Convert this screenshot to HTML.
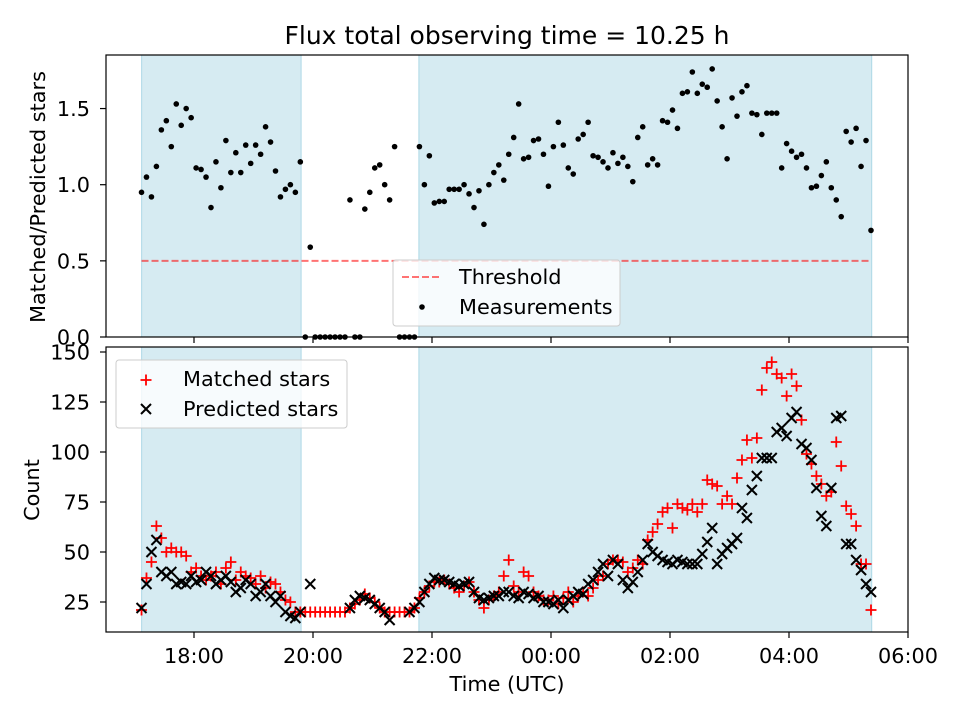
<!DOCTYPE html>
<html><head><meta charset="utf-8"><style>
body{margin:0;background:#fff;}
svg text{font-family:"DejaVu Sans","Liberation Sans",sans-serif;fill:#000;}
</style></head><body>
<svg id="chart" width="960" height="720" xmlns="http://www.w3.org/2000/svg"></svg>
<script>
// ---- data ----
const startHour = -0.882;   // hours relative to 18:00 (first sample)
const endHour = 11.378;     // last sample
const ratioValues = [0.95,1.05,0.92,1.12,1.36,1.42,1.25,1.53,1.39,1.50,1.44,1.11,1.10,1.05,0.85,1.15,0.98,1.29,1.08,1.21,1.08,1.26,1.14,1.26,1.20,1.38,1.28,1.09,0.92,0.97,1.00,0.95,1.15,
0,0.59,0,0,0,0,0,0,0,0.90,0,0,0.84,0.95,1.11,1.13,1.00,0.90,1.25,0,0,0,0,
1.25,1.00,1.19,0.88,0.89,0.89,0.97,0.97,0.97,1.00,0.94,0.85,0.96,0.74,1.00,1.08,
1.13,1.03,1.20,1.31,1.53,1.17,1.18,1.29,1.30,1.20,
0.99,1.25,1.41,1.26,1.11,1.07,1.30,1.33,1.41,1.19,1.18,1.15,1.11,1.21,1.14,1.18,1.12,1.02,1.31,1.38,1.13,1.17,1.13,1.42,1.41,1.49,1.37,1.60,1.61,
1.74,1.60,1.66,1.64,1.76,1.55,1.38,1.17,1.57,1.45,1.61,1.65,1.47,1.46,1.33,1.47,1.47,1.47,1.11,1.27,1.22,1.18,1.20,1.11,0.98,0.99,1.06,1.15,0.98,0.90,0.79,1.35,1.28,1.37,1.12,1.29,0.70];
const matchedValues = [21,37,45,63,57,50,52,50,50,48,40,42,38,36,38,40,34,42,45,36,40,38,37,34,38,32,35,34,30,26,25,20,20,
20,20,20,20,20,20,20,20,20,22,24,26,29,27,25,22,20,20,20,20,20,20,22,
27,30,33,35,35,36,34,32,30,33,35,30,26,22,26,28,
30,38,46,33,30,40,38,30,28,26,
26,28,24,27,30,25,28,30,28,32,36,38,44,46,46,45,40,42,46,44,56,60,64,70,72,62,74,72,71,
74,70,74,86,84,83,74,78,74,87,96,106,97,107,131,142,145,139,137,128,139,133,116,99,94,88,84,78,80,105,93,73,69,63,44,44,21];
const predictedValues = [22,34,50,56,40,38,40,34,35,34,38,35,36,40,38,34,36,38,35,30,32,36,34,28,30,34,28,25,28,20,18,17,20,
null,34,null,null,null,null,null,null,null,22,26,28,27,26,24,22,20,16,null,null,null,20,22,
25,30,34,37,36,36,35,34,33,34,35,30,27,26,27,28,
28,30,30,28,27,30,29,27,28,25,
25,24,26,22,26,28,30,29,34,36,40,44,38,46,44,36,32,35,40,46,54,50,48,46,45,44,46,45,44,
44,44,49,55,62,44,49,52,54,57,72,67,81,88,97,97,97,110,112,108,117,120,104,102,96,82,68,63,82,117,118,54,54,46,41,34,30];
const threshold = 0.5;
const observingSpans = [[-0.88,1.80],[3.78,11.39]];
const xTickHours = [0,2,4,6,8,10,12];
const xTickLabels = ["18:00","20:00","22:00","00:00","02:00","04:00","06:00"];
const topTicks = [0,0.5,1.0,1.5];
const topTickLabels = ["0.0","0.5","1.0","1.5"];
const botTicks = [25,50,75,100,125,150];

// ---- scales ----
const L=106,R=908,T1=55,B1=337,T2=347,B2=632;
const xS=h=>194+h*59.5;
const yTop=v=>337-v*152.3;
const yBot=c=>352-(c-150)*2;
const svg=document.getElementById('chart');
const NS='http://www.w3.org/2000/svg';
function mk(tag,attrs,parent){const e=document.createElementNS(NS,tag);for(const k in attrs)e.setAttribute(k,attrs[k]);(parent||svg).appendChild(e);return e;}
const n=ratioValues.length;
const timeAt=i=>startHour+i*(endHour-startHour)/(n-1);

function panel(T,B,name){
  const g=mk('g',{});
  
  
  observingSpans.forEach(s=>{
    const r=mk('rect',{x:xS(s[0]),y:T,width:xS(s[1])-xS(s[0]),height:B-T,fill:'#add8e6','fill-opacity':0.5,stroke:'#add8e6','stroke-width':1},g);
    
    
  });
  return g;
}
function frame(T,B){mk('rect',{x:L,y:T,width:R-L,height:B-T,fill:'none',stroke:'#000','stroke-width':1.2});}

// top panel
const gTop=panel(T1,B1,'ratio-panel');
const th=mk('line',{x1:xS(startHour),x2:xS(endHour),y1:yTop(threshold),y2:yTop(threshold),stroke:'#ff0000','stroke-opacity':0.55,'stroke-width':2,'stroke-dasharray':'7,3'},gTop);


ratioValues.forEach((v,i)=>{
  const c=mk('circle',{cx:xS(timeAt(i)),cy:yTop(v),r:2.8,fill:'#000'},gTop);
  
  
});
frame(T1,B1);
topTicks.forEach((v,k)=>{
  mk('line',{x1:L-6,x2:L,y1:yTop(v),y2:yTop(v),stroke:'#000','stroke-width':1.2});
  const t=mk('text',{x:L-16,y:yTop(v)+7.5,'text-anchor':'end','font-size':20.8});t.textContent=topTickLabels[k];
  
  
});
xTickHours.forEach(h=>mk('line',{x1:xS(h),x2:xS(h),y1:B1,y2:B1+6,stroke:'#000','stroke-width':1.2}));

// bottom panel
const gBot=panel(T2,B2,'count-panel');
function plus(x,y,p){mk('path',{d:`M${x-5.5} ${y}H${x+5.5}M${x} ${y-5.5}V${y+5.5}`,stroke:'#ff0000','stroke-width':1.8,fill:'none'},p);}
function cross(x,y,p){mk('path',{d:`M${x-5} ${y-5}L${x+5} ${y+5}M${x-5} ${y+5}L${x+5} ${y-5}`,stroke:'#000','stroke-width':2,fill:'none'},p);}
const clipB=v=>v!==null&&v>=10&&v<=152;
matchedValues.forEach((v,i)=>{ if(clipB(v)) plus(xS(timeAt(i)),yBot(v),gBot); });
predictedValues.forEach((v,i)=>{ if(clipB(v)) cross(xS(timeAt(i)),yBot(v),gBot); });
frame(T2,B2);
botTicks.forEach(v=>{
  mk('line',{x1:L-6,x2:L,y1:yBot(v),y2:yBot(v),stroke:'#000','stroke-width':1.2});
  const t=mk('text',{x:L-16,y:yBot(v)+7.5,'text-anchor':'end','font-size':20.8});t.textContent=v;
  
  
});
xTickHours.forEach((h,k)=>{
  mk('line',{x1:xS(h),x2:xS(h),y1:B2,y2:B2+6,stroke:'#000','stroke-width':1.2});
  const t=mk('text',{x:xS(h),y:663,'text-anchor':'middle','font-size':20.8});t.textContent=xTickLabels[k];
  
  
});
</script>
<svg width="960" height="720" style="position:absolute;left:0;top:0" xmlns="http://www.w3.org/2000/svg">
 <text x="507" y="44" text-anchor="middle" font-size="25">Flux total observing time = 10.25 h</text>
 <text transform="translate(45,197) rotate(-90)" text-anchor="middle" font-size="20.8">Matched/Predicted stars</text>
 <text transform="translate(39,490) rotate(-90)" text-anchor="middle" font-size="20.8">Count</text>
 <text x="507" y="691" text-anchor="middle" font-size="20.8">Time (UTC)</text>
 <g>
  <rect x="393" y="260" width="227" height="66" rx="3" fill="#ffffff" fill-opacity="0.8" stroke="#cccccc"/>
  <line x1="402" y1="277" x2="440" y2="277" stroke="#ff0000" stroke-opacity="0.55" stroke-width="2" stroke-dasharray="7,3"/>
  <text x="459" y="284" font-size="20.8">Threshold</text>
  <circle cx="422" cy="307" r="2.8" fill="#000"/>
  <text x="459" y="314" font-size="20.8">Measurements</text>
 </g>
 <g>
  <rect x="116" y="360" width="231" height="68" rx="3" fill="#ffffff" fill-opacity="0.8" stroke="#cccccc"/>
  <path d="M140.5 380H151.5M146 374.5V385.5" stroke="#ff0000" stroke-width="1.8"/>
  <text x="183" y="386" font-size="20.8">Matched stars</text>
  <path d="M141 404L151 414M141 414L151 404" stroke="#000" stroke-width="2"/>
  <text x="183" y="416" font-size="20.8">Predicted stars</text>
 </g>
</svg>
</body></html>
